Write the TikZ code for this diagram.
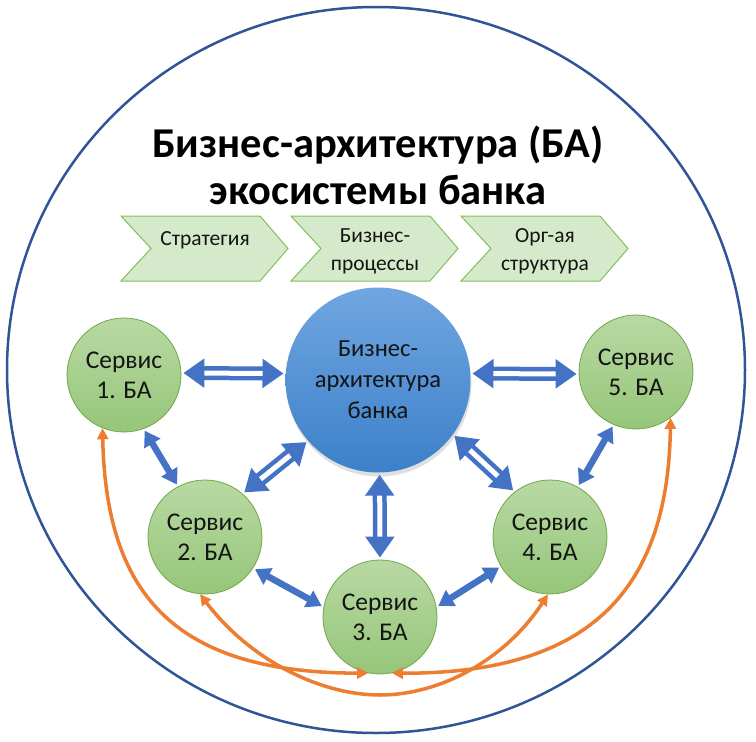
\documentclass[tikz,border=0pt]{standalone}
\usepackage{fontspec}
\setmainfont{Carlito}
\usetikzlibrary{arrows.meta,shadows}
\definecolor{barrow}{RGB}{68,114,196}
\definecolor{oarrow}{RGB}{237,125,49}
\definecolor{ring}{RGB}{47,85,151}
\definecolor{chfill}{RGB}{213,234,203}
\definecolor{chdraw}{RGB}{132,190,92}
\definecolor{svtop}{RGB}{184,217,163}
\definecolor{svbot}{RGB}{150,198,121}
\definecolor{svdraw}{RGB}{112,168,72}
\definecolor{cetop}{RGB}{112,166,224}
\definecolor{cebot}{RGB}{60,128,202}
\definecolor{txt}{RGB}{20,20,20}
\newcommand\dblarr[2]{%
  \draw[barrow, line width=14pt, {Triangle[width=28pt,length=21pt]}-{Triangle[width=28pt,length=21pt]}, shorten <=2pt, shorten >=2pt] (#1) -- (#2);
  \draw[white, line width=5pt, shorten <=23pt, shorten >=23pt] (#1) -- (#2);}
\begin{document}
\begin{tikzpicture}[x=1pt,y=-1pt,
  svc/.style={circle, minimum size=114pt, inner sep=0pt, draw=svdraw, line width=0.8pt, top color=svtop, bottom color=svbot, align=center, text=txt, font=\fontsize{25.5}{30}\selectfont},
  cen/.style={circle, minimum size=185pt, inner sep=0pt, top color=cetop, bottom color=cebot, drop shadow={opacity=0.25, shadow xshift=1pt, shadow yshift=-4pt}, align=center, text=txt, font=\fontsize{24.5}{31}\selectfont},
  chev/.style={fill=chfill, draw=chdraw, line width=1pt},
  chtxt/.style={align=center, text=txt, font=\fontsize{21.5}{28}\selectfont, inner sep=0pt},
  ttl/.style={font=\fontsize{42.5}{48}\selectfont\bfseries, anchor=base, inner sep=0pt},
  sarr/.style={draw=barrow, line width=6.5pt, {Triangle[width=18pt,length=15pt]}-{Triangle[width=18pt,length=15pt]}, shorten <=2pt, shorten >=2pt},
  oarr/.style={draw=oarrow, line width=3.5pt, {Triangle[width=11pt,length=11pt]}-{Triangle[width=11pt,length=11pt]}},
]
\useasboundingbox (0,0) rectangle (756,742);
\fill[white] (0,0) rectangle (756,742);
% outer ring
\draw[ring, line width=2.5pt] (376,370) ellipse [x radius=369, y radius=363];
% title
\node[ttl] (t1) at (378,157) {Бизнес-архитектура (БА)};
\node[ttl] (t2) at (378,204) {экосистемы банка};
% chevrons
\draw[chev] (121,216) -- (260,216) -- (288,248.5) -- (260,281) -- (121,281) -- (151,248.5) -- cycle;
\draw[chev] (291,216) -- (430,216) -- (458,248.5) -- (430,281) -- (291,281) -- (321,248.5) -- cycle;
\draw[chev] (461,216) -- (600,216) -- (628,248.5) -- (600,281) -- (461,281) -- (491,248.5) -- cycle;
\node[chtxt] (c1) at (205,240) {Стратегия};
\node[chtxt] (c2) at (375,251) {Бизнес-\\процессы};
\node[chtxt] (c3) at (545,251) {Орг-ая\\структура};
% circles
\node[cen] (ce) at (378,380) {Бизнес-\\архитектура\\банка};
\node[svc] (s1) at (124,375) {Сервис\\1. БА};
\node[svc] (s2) at (205,537) {Сервис\\2. БА};
\node[svc] (s3) at (380,617) {Сервис\\3. БА};
\node[svc] (s4) at (550,537) {Сервис\\4. БА};
\node[svc] (s5) at (636,372) {Сервис\\5. БА};
% double arrows
\dblarr{ce.176}{s1.2}
\dblarr{ce.4}{s5.182}
\dblarr{ce.221}{s2.49}
\dblarr{ce.-36}{s4.128}
\dblarr{ce.-89}{s3.north}
% single arrows
\draw[sarr] (s1.-70) -- (s2.118);
\draw[sarr] (s2.-33) -- (s3.170);
\draw[sarr] (s3.10) -- (s4.211);
\draw[sarr] (s4.61) -- (s5.247);
% orange arrows
\coordinate (cb) at (380,695);
\draw[oarr] (s1.248) .. controls (106,590) and (170,673) .. (s3.258);
\draw[oarr] (s5.-53) .. controls (668,590) and (590,674) .. (s3.282);
\draw[oarr] (s2.265) .. controls (250,660) and (320,695) .. (cb) .. controls (440,695) and (505,660) .. (s4.268);
\end{tikzpicture}
\end{document}
